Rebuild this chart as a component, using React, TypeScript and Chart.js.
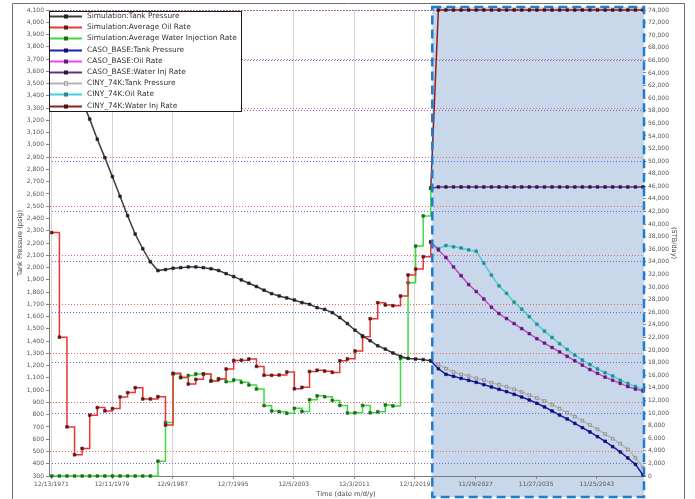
import React, { useEffect, useRef } from 'react';
import { Chart, registerables } from 'chart.js';

Chart.register(...registerables);

// ---------- data ----------
const xTickLabels = ['12/13/1971', '12/11/1979', '12/9/1987', '12/7/1995', '12/5/2003', '12/3/2011', '12/1/2019', '11/29/2027', '11/27/2035', '11/25/2043'];
const xAxisStart = '8/19/1971';
const xAxisEnd = '1/1/2050';
const forecastStart = '1/1/2022';

const simYears = [1972, 1973, 1974, 1975, 1976, 1977, 1978, 1979, 1980, 1981, 1982, 1983, 1984, 1985, 1986, 1987, 1988, 1989, 1990, 1991, 1992, 1993, 1994, 1995, 1996, 1997, 1998, 1999, 2000, 2001, 2002, 2003, 2004, 2005, 2006, 2007, 2008, 2009, 2010, 2011, 2012, 2013, 2014, 2015, 2016, 2017, 2018, 2019, 2020, 2021, 2022];
const simTankPressure = [3990, 3830, 3670, 3510, 3360, 3210, 3046, 2896, 2741, 2581, 2423, 2273, 2153, 2047, 1975, 1983, 1994, 1999, 2005, 2005, 1999, 1990, 1976, 1950, 1926, 1899, 1872, 1845, 1815, 1787, 1768, 1752, 1735, 1714, 1700, 1673, 1659, 1632, 1592, 1543, 1489, 1443, 1403, 1362, 1335, 1303, 1276, 1259, 1254, 1249, 1240];
const simOilRate = [38650, 22050, 7800, 3370, 4380, 9660, 10870, 10340, 10710, 12560, 13240, 14020, 12230, 12230, 12600, 8100, 16300, 15700, 14610, 15350, 16200, 15100, 15400, 16990, 18350, 18400, 18580, 17400, 16000, 15990, 16040, 16510, 13850, 14080, 16600, 16800, 16650, 16450, 18300, 18600, 19850, 22120, 24980, 27520, 27150, 27040, 28580, 31920, 32870, 34830, 37210];
const simWaterInjRate = [0, 0, 0, 0, 0, 0, 0, 0, 0, 0, 0, 0, 0, 0, 2350, 8500, 16200, 15600, 15950, 16200, 16200, 15090, 15400, 14980, 15250, 14870, 14450, 13820, 11170, 10320, 10220, 9950, 10750, 10250, 12120, 12730, 12580, 12000, 11200, 10000, 10030, 11200, 10030, 10200, 11280, 11120, 18700, 30700, 36520, 41300, 45700];

const forecastYears = [2022, 2023, 2024, 2025, 2026, 2027, 2028, 2029, 2030, 2031, 2032, 2033, 2034, 2035, 2036, 2037, 2038, 2039, 2040, 2041, 2042, 2043, 2044, 2045, 2046, 2047, 2048, 2049, 2050];
const casoTankPressure = [1240, 1175, 1129, 1113, 1096, 1080, 1064, 1045, 1026, 1007, 988, 966, 944, 920, 893, 863, 830, 797, 765, 729, 694, 659, 621, 583, 539, 496, 447, 395, 308];
const casoOilRate = [37100, 35900, 34700, 33200, 31800, 30400, 29300, 28100, 26800, 25800, 25000, 24200, 23400, 22600, 21800, 21100, 20400, 19700, 19000, 18300, 17600, 16900, 16300, 15700, 15200, 14700, 14200, 13800, 13500];
const casoWaterInjRate = [45700, 45900, 45900, 45900, 45900, 45900, 45900, 45900, 45900, 45900, 45900, 45900, 45900, 45900, 45900, 45900, 45900, 45900, 45900, 45900, 45900, 45900, 45900, 45900, 45900, 45900, 45900, 45900, 45900];
const cinyTankPressure = [1240, 1211, 1175, 1148, 1129, 1115, 1096, 1083, 1061, 1045, 1028, 1007, 985, 960, 936, 912, 882, 849, 816, 784, 751, 716, 681, 642, 604, 564, 517, 449, 368];
const cinyOilRate = [37100, 36100, 36600, 36400, 36200, 35900, 35700, 33800, 31900, 30200, 29000, 27600, 26500, 25300, 24100, 23000, 22000, 21000, 20100, 19200, 18400, 17700, 17000, 16400, 15900, 15200, 14700, 14200, 13700];
const cinyWaterInjRate = [45700, 74000, 74000, 74000, 74000, 74000, 74000, 74000, 74000, 74000, 74000, 74000, 74000, 74000, 74000, 74000, 74000, 74000, 74000, 74000, 74000, 74000, 74000, 74000, 74000, 74000, 74000, 74000, 74000];

// ---------- helpers ----------
const EPOCH = Date.UTC(1971, 11, 13);
const DAY = 86400000;
const dayOfMDY = (s: string) => {
  const [m, d, y] = s.split('/').map(Number);
  return (Date.UTC(y, m - 1, d) - EPOCH) / DAY;
};
const dayOfYear = (y: number) => (Date.UTC(y, 0, 1) - EPOCH) / DAY;
const fmt = (v: number) => Number(v).toLocaleString('en-US');
const pts = (years: number[], vals: number[]) => years.map((y, i) => ({ x: dayOfYear(y), y: vals[i] }));

const TICK_FONT = { family: '"DejaVu Sans", Verdana, sans-serif', size: 6 };

const frameAndBoxPlugin = {
  id: 'frameAndBox',
  beforeDraw(chart: any) {
    const { ctx, chartArea } = chart;
    const xs = chart.scales.x;
    ctx.save();
    ctx.strokeStyle = '#6f6f6f';
    ctx.lineWidth = 1;
    ctx.beginPath();
    ctx.moveTo(12.5, 499);
    ctx.lineTo(12.5, 3.5);
    ctx.lineTo(684.5, 3.5);
    ctx.lineTo(684.5, 499);
    ctx.stroke();
    const left = xs.getPixelForValue(dayOfMDY(forecastStart)) + 1.5;
    const right = chartArea.right + 1;
    ctx.fillStyle = '#c9d7ea';
    ctx.fillRect(left, chartArea.top - 3, right - left, chart.height - 2 - (chartArea.top - 3));
    ctx.restore();
  },
  afterDatasetsDraw(chart: any) {
    const { ctx, chartArea } = chart;
    const xs = chart.scales.x;
    const left = xs.getPixelForValue(dayOfMDY(forecastStart)) + 1.5;
    const right = chartArea.right + 1;
    ctx.save();
    ctx.strokeStyle = '#1f7dcf';
    ctx.lineWidth = 2.5;
    ctx.setLineDash([9, 5]);
    ctx.strokeRect(left, chartArea.top - 3, right - left, chart.height - 2 - (chartArea.top - 3));
    ctx.restore();
  },
  afterDraw(chart: any) {
    const { ctx, chartArea } = chart;
    ctx.save();
    // axis titles
    ctx.fillStyle = '#444';
    ctx.font = '6.6px "DejaVu Sans", Verdana, sans-serif';
    ctx.textAlign = 'center';
    ctx.textBaseline = 'middle';
    const cy = (chartArea.top + chartArea.bottom) / 2;
    ctx.save();
    ctx.translate(20, cy);
    ctx.rotate(-Math.PI / 2);
    ctx.fillText('Tank Pressure (psig)', 0, 0);
    ctx.restore();
    ctx.save();
    ctx.translate(674, cy);
    ctx.rotate(Math.PI / 2);
    ctx.fillText('(STB/day)', 0, 0);
    ctx.restore();
    ctx.fillText('Time (date m/d/y)', (chartArea.left + chartArea.right) / 2, 494);

    // legend box
    const x0 = chartArea.left, y0 = chartArea.top + 1;
    const w = 192, h = 100;
    ctx.fillStyle = '#ffffff';
    ctx.fillRect(x0, y0, w, h);
    ctx.strokeStyle = '#1a1a1a';
    ctx.lineWidth = 1;
    ctx.strokeRect(x0 + 0.5, y0 + 0.5, w, h);
    ctx.font = '7.4px "DejaVu Sans", Verdana, sans-serif';
    ctx.textAlign = 'left';
    chart.data.datasets.forEach((ds: any, i: number) => {
      const y = Math.round(y0 + 5 + i * 11.2) + 0.5;
      ctx.strokeStyle = ds.legendColor || ds.borderColor;
      ctx.lineWidth = 2;
      ctx.beginPath();
      ctx.moveTo(x0 + 1, y);
      ctx.lineTo(x0 + 33, y);
      ctx.stroke();
      ctx.fillStyle = ds.pointBorderColor;
      ctx.fillRect(x0 + 15, y - 2, 4, 4);
      ctx.fillStyle = ds.pointBackgroundColor;
      ctx.fillRect(x0 + 15.5, y - 1.5, 3, 3);
      ctx.fillStyle = '#333';
      ctx.fillText(ds.label, x0 + 38, y);
    });
    ctx.restore();
  },
};

const line = (label: string, data: any[], axis: string, color: string, ptFill: string, ptBorder: string, extra: any = {}) => ({
  label,
  data,
  yAxisID: axis,
  borderColor: color,
  backgroundColor: color,
  borderWidth: 1.5,
  pointStyle: 'rect',
  pointRadius: 1.9,
  pointBorderWidth: 0.6,
  pointBackgroundColor: ptFill,
  pointBorderColor: ptBorder,
  tension: 0,
  fill: false,
  clip: 4,
  ...extra,
});

export default function App() {
  const ref = useRef<HTMLCanvasElement>(null);
  useEffect(() => {
    const canvas = ref.current;
    if (!canvas) return;
    const tickVals = xTickLabels.map(dayOfMDY);
    const chart = new Chart(canvas, {
      type: 'line',
      data: {
        datasets: [
          line('Simulation:Tank Pressure', pts(simYears, simTankPressure), 'yL', '#3c3c3c', '#222222', '#222222'),
          line('Simulation:Average Oil Rate', pts(simYears, simOilRate), 'yR', '#ee3333', '#5a1a1a', '#5a1a1a', { stepped: true }),
          line('Simulation:Average Water Injection Rate', pts(simYears, simWaterInjRate), 'yR', '#3ddc3d', '#1d6a1d', '#1d6a1d', { stepped: true }),
          line('CASO_BASE:Tank Pressure', pts(forecastYears, casoTankPressure), 'yL', '#1c1cb8', '#10106a', '#10106a'),
          line('CASO_BASE:Oil Rate', pts(forecastYears, casoOilRate), 'yR', '#c546dc', '#5a1f6a', '#5a1f6a', { legendColor: '#f040f0' }),
          line('CASO_BASE:Water Inj Rate', pts(forecastYears, casoWaterInjRate), 'yR', '#6b2e8e', '#2a1840', '#2a1840'),
          line('CINY_74K:Tank Pressure', pts(forecastYears, cinyTankPressure), 'yL', '#b4b4b4', '#d8d8d8', '#6a6a6a'),
          line('CINY_74K:Oil Rate', pts(forecastYears, cinyOilRate), 'yR', '#3fd2da', '#2a8a90', '#2a8a90'),
          line('CINY_74K:Water Inj Rate', pts(forecastYears, cinyWaterInjRate), 'yR', '#8e1f1f', '#4a0e0e', '#4a0e0e'),
        ],
      },
      options: {
        responsive: false,
        animation: false,
        devicePixelRatio: 1,
        events: [],
        layout: { padding: { top: 10, left: 0, right: 0, bottom: 0 } },
        plugins: { legend: { display: false }, tooltip: { enabled: false } },
        scales: {
          x: {
            type: 'linear',
            min: dayOfMDY(xAxisStart),
            max: dayOfMDY(xAxisEnd),
            afterBuildTicks: (s: any) => {
              s.ticks = tickVals.map((v) => ({ value: v }));
            },
            afterFit: (s: any) => {
              s.height = 23;
            },
            ticks: {
              autoSkip: false,
              maxRotation: 0,
              padding: 2,
              color: '#555',
              font: TICK_FONT,
              callback: (_v: any, i: number) => xTickLabels[i],
            },
            grid: { color: '#d4d4d4', lineWidth: 1, tickLength: 3, tickColor: '#888' },
            border: { color: '#7a7a7a' },
          },
          yL: {
            type: 'linear',
            position: 'left',
            min: 300,
            max: 4100,
            afterFit: (s: any) => {
              s.width = 49;
            },
            ticks: { stepSize: 100, autoSkip: false, padding: 2, color: '#555', font: TICK_FONT, callback: (v: any) => fmt(v) },
            grid: {
              color: (c: any) => (c.tick && (c.tick.value - 500) % 400 === 0 ? '#e56b6b' : 'transparent'),
              lineWidth: 1,
              tickLength: 3,
              tickColor: '#888',
            },
            border: { color: '#7a7a7a', dash: [1, 2] },
          },
          yR: {
            type: 'linear',
            position: 'right',
            min: 0,
            max: 74000,
            afterFit: (s: any) => {
              s.width = 52;
            },
            ticks: { stepSize: 2000, autoSkip: false, padding: 2, color: '#555', font: TICK_FONT, callback: (v: any) => fmt(v) },
            grid: {
              color: (c: any) => (c.tick && (c.tick.value - 2000) % 8000 === 0 ? '#6b6be0' : 'transparent'),
              lineWidth: 1,
              tickLength: 3,
              tickColor: '#888',
            },
            border: { display: false, dash: [1, 2] },
          },
        },
      } as any,
      plugins: [frameAndBoxPlugin],
    });
    return () => chart.destroy();
  }, []);

  return (
    <div style={{ position: 'fixed', left: 0, top: 0, width: 695, height: 499, background: '#fff' }}>
      <canvas ref={ref} width={695} height={499} style={{ width: 695, height: 499, display: 'block' }} />
    </div>
  );
}
